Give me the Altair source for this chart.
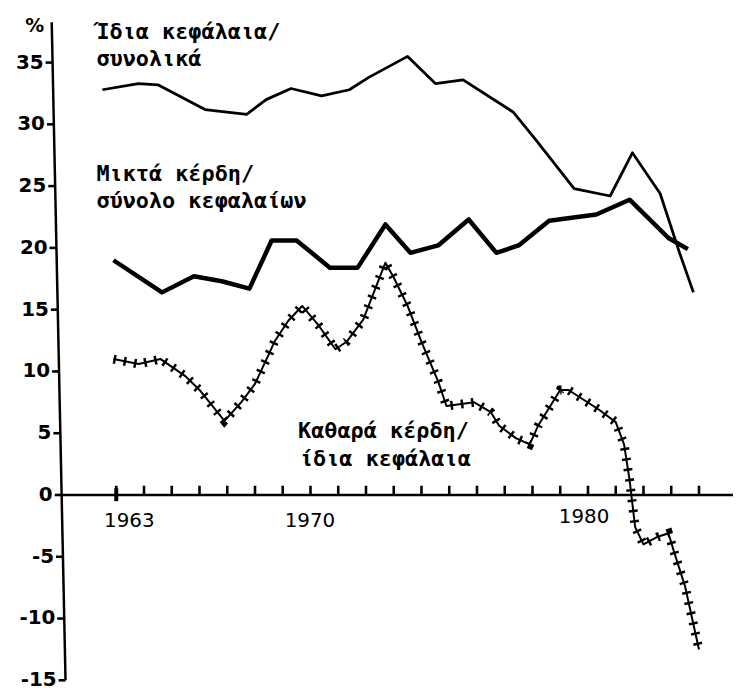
import altair as alt
import pandas as pd

# ---- data ----
years_top = [1962.5, 1963.8, 1964.5, 1966.2, 1967.7, 1968.4, 1969.3, 1970.4, 1971.4, 1972.1,
             1973.5, 1974.5, 1975.5, 1977.3, 1978.1, 1979.5, 1980.8, 1981.6, 1982.6, 1983.3, 1983.8]
vals_top = [32.8, 33.3, 33.2, 31.2, 30.8, 32.0, 32.9, 32.3, 32.8, 33.8,
            35.5, 33.3, 33.6, 31.0, 28.8, 24.8, 24.2, 27.7, 24.4, 19.6, 16.4]

years_mid = [1962.9, 1964.65, 1965.8, 1966.8, 1967.8, 1968.6, 1969.5, 1970.7, 1971.7, 1972.7,
             1973.6, 1974.6, 1975.7, 1976.7, 1977.5, 1978.6, 1980.3, 1981.5, 1982.9, 1983.6]
vals_mid = [19.0, 16.4, 17.7, 17.3, 16.7, 20.6, 20.6, 18.4, 18.4, 21.9,
            19.6, 20.2, 22.3, 19.6, 20.2, 22.2, 22.7, 23.9, 20.8, 19.9]

years_net = [1962.9, 1963.8, 1964.6, 1965.5, 1966.0, 1966.9, 1967.5, 1968.0, 1968.5, 1968.7,
             1969.2, 1969.7, 1970.3, 1970.9, 1971.3, 1971.9, 1972.7, 1973.0, 1973.5, 1974.0,
             1974.6, 1974.9, 1975.9, 1976.5, 1976.8, 1977.4, 1977.9, 1978.2, 1979.0, 1979.3,
             1980.4, 1981.0, 1981.3, 1981.5, 1981.7, 1982.0, 1982.5, 1982.9, 1983.1, 1983.5, 1984.0]
vals_net = [11.0, 10.6, 11.0, 9.6, 8.5, 6.0, 7.5, 9.0, 11.4, 12.4,
            14.1, 15.3, 13.7, 11.8, 12.4, 14.2, 18.8, 17.6, 15.3, 12.4,
            9.2, 7.2, 7.5, 6.7, 5.6, 4.6, 4.1, 5.6, 8.5, 8.5,
            6.9, 5.9, 4.1, 1.2, -2.6, -4.0, -3.4, -3.1, -4.6, -7.4, -12.5]

y_tick_values = [35, 30, 25, 20, 15, 10, 5, 0, -5, -10, -15]
y_tick_labels = ["35", "30", "25", "20", "15", "10", "5", "0", "-5", "-10", "-15"]
x_tick_years = list(range(1963, 1985))
x_label_text = ["1963", "1970", "1980"]

series_labels = ["Ίδια κεφάλαια/", "συνολικά", "Μικτά κέρδη/", "σύνολο κεφαλαίων",
                 "Καθαρά κέρδη/", "ίδια κεφάλαια"]

# ---- layout (annotation placement) ----
XS = alt.Scale(domain=[1959.099, 1985.226], nice=False, zero=False)
YS = alt.Scale(domain=[-15.595, 39.228], nice=False, zero=False)


def X(f="year"):
    return alt.X(f"{f}:Q", scale=XS, axis=None)


def Y(f="value"):
    return alt.Y(f"{f}:Q", scale=YS, axis=None)


def ax(v):  # hand-drawn, slightly slanted y-axis
    return 1961.032 - 0.00934 * v


df_top = pd.DataFrame({"year": years_top, "value": vals_top})
df_mid = pd.DataFrame({"year": years_mid, "value": vals_mid})
df_net = pd.DataFrame({"year": years_net, "value": vals_net})

top = alt.Chart(df_top).mark_line(color="black", strokeWidth=2.8, strokeJoin="round").encode(x=X(), y=Y())
mid = alt.Chart(df_mid).mark_line(color="black", strokeWidth=4.5, strokeJoin="round").encode(x=X(), y=Y())
net = alt.Chart(df_net).mark_line(color="black", strokeWidth=2, strokeJoin="round").encode(x=X(), y=Y())
net_cross = alt.Chart(df_net).mark_line(color="black", strokeWidth=9, strokeDash=[2.5, 8],
                                        strokeCap="butt").encode(x=X(), y=Y())

# x axis line at 0
df_xaxis = pd.DataFrame({"year": [ax(0)], "year2": [1985.226], "value": [0]})
xaxis = alt.Chart(df_xaxis).mark_rule(color="black", strokeWidth=2.5).encode(
    x=X(), x2=alt.X2("year2"), y=Y())

# x tick marks: short upward rules, one per year
df_xt = pd.DataFrame({"year": x_tick_years})
xticks = alt.Chart(df_xt).transform_calculate(lo="0", hi="0.75").mark_rule(
    color="black", strokeWidth=2.6
).encode(x=X(), y=Y("lo"), y2=alt.Y2("hi"))

df_big = pd.DataFrame({"year": [1963], "value": [-0.5], "value2": [0.55]})
bigtick = alt.Chart(df_big).mark_rule(color="black", strokeWidth=4).encode(
    x=X(), y=Y(), y2=alt.Y2("value2"))

df_xl = pd.DataFrame({"year": [1963.47, 1969.98, 1979.86], "value": [-2.1, -2.1, -1.8],
                      "label": x_label_text})
xlabels = alt.Chart(df_xl).mark_text(font="DejaVu Sans", fontSize=20, align="center",
                                     baseline="middle", color="black").encode(
    x=X(), y=Y(), text="label:N")

# y axis (slanted rule)
df_yaxis = pd.DataFrame({"year": [ax(38.26)], "year2": [ax(-15)], "value": [38.26], "value2": [-15]})
yaxis = alt.Chart(df_yaxis).mark_rule(color="black", strokeWidth=2.5).encode(
    x=X(), x2=alt.X2("year2"), y=Y(), y2=alt.Y2("value2"))

# y tick marks: short leftward rules at the labelled values
df_yt = pd.DataFrame({"value": y_tick_values, "label": y_tick_labels})
yticks = alt.Chart(df_yt).transform_calculate(
    ax="1961.032 - 0.00934*datum.value", axl="1961.032 - 0.00934*datum.value - 0.25"
).mark_rule(color="black", strokeWidth=2.6).encode(
    x=X("axl"), x2=alt.X2("ax"), y=Y())

ylabels = alt.Chart(df_yt).transform_calculate(
    ax="1961.032 - 0.00934*datum.value"
).mark_text(font="DejaVu Sans", fontSize=20, fontWeight="bold", align="right",
            baseline="middle", dx=-9, color="black").encode(
    x=X("ax"), y=Y(), text="label:N")

df_pct = pd.DataFrame({"year": [1960.065], "value": [37.94], "label": ["%"]})
pct = alt.Chart(df_pct).mark_text(font="DejaVu Sans", fontSize=19, fontWeight="bold",
                                  align="center", baseline="middle", color="black").encode(
    x=X(), y=Y(), text="label:N")

df_lab = pd.DataFrame({
    "year": [1962.284, 1962.284, 1962.284, 1962.284, 1969.55, 1969.62],
    "value": [37.46, 35.29, 25.96, 23.79, 5.14, 2.89],
    "label": series_labels,
})
labels = alt.Chart(df_lab).mark_text(font="DejaVu Sans Mono", fontSize=22, fontWeight="bold",
                                     align="left", baseline="middle", color="black").encode(
    x=X(), y=Y(), text="label:N")

chart = alt.layer(
    xaxis, xticks, bigtick, xlabels, yaxis, yticks, ylabels, pct,
    top, mid, net, net_cross, labels
).properties(
    width=730, height=682, padding=0,
    autosize=alt.AutoSizeParams(type="none"),
    background="white",
).configure_view(stroke=None)

chart.save("out.html", embed_options={"renderer": "svg", "actions": False})
